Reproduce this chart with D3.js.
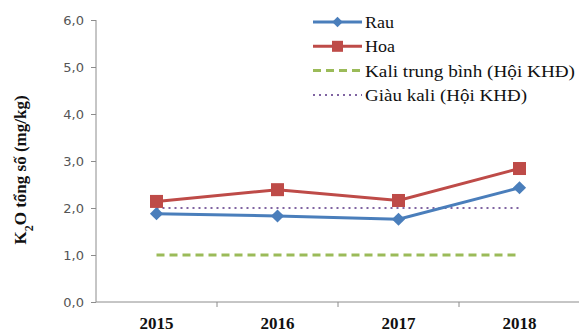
<!DOCTYPE html>
<html>
<head>
<meta charset="utf-8">
<script src="https://cdn.jsdelivr.net/npm/d3@7"></script>
<style>
  html, body { margin: 0; padding: 0; background: #fff; }
  svg { display: block; }
</style>
</head>
<body>
<svg id="chart" width="579" height="333"></svg>
<script>
// Data
const years = ["2015", "2016", "2017", "2018"];
const rau = [1.88, 1.83, 1.76, 2.43];
const hoa = [2.14, 2.39, 2.16, 2.84];
const kaliTrungBinh = [1.0, 1.0, 1.0, 1.0];
const giauKali = [2.0, 2.0, 2.0, 2.0];
const yTicks = [0, 1, 2, 3, 4, 5, 6];

const SERIF = "'Liberation Serif', 'Times New Roman', serif";
const svg = d3.select("#chart");
const margin = { left: 96, top: 20, bottom: 31 };
const W = 579, H = 333;

const x = d3.scaleBand().domain(years).range([margin.left, margin.left + 4 * 121]).padding(0);
const y = d3.scaleLinear().domain([0, 6]).range([H - margin.bottom, margin.top]);
const cx = d => x(d) + x.bandwidth() / 2;

// Y axis
const yAxis = svg.append("g")
  .attr("transform", `translate(${margin.left},0)`)
  .call(d3.axisLeft(y).tickValues(yTicks).tickSize(5).tickPadding(7)
    .tickFormat(d => d3.format(".1f")(d).replace(".", ",")));
yAxis.selectAll("path, line").attr("stroke", "#8c8c8c");
yAxis.select(".domain").attr("d", `M0,${y(6)}V${y(0)}`);
yAxis.selectAll("text")
  .attr("font-family", "'DejaVu Sans', sans-serif")
  .attr("font-size", 13)
  .attr("fill", "#555");

// X axis
const xAxis = svg.append("g")
  .attr("transform", `translate(0,${y(0)})`)
  .call(d3.axisBottom(x).tickSize(0).tickPadding(0));
xAxis.select(".domain").attr("stroke", "#8c8c8c").attr("d", `M${margin.left},0H${W}`);
xAxis.selectAll("text")
  .attr("dy", null)
  .attr("y", 27)
  .attr("font-family", SERIF)
  .attr("font-weight", "bold")
  .attr("font-size", 17)
  .attr("fill", "#111");
// category boundary ticks
svg.append("g").selectAll("line")
  .data(years.slice(1))
  .join("line")
  .attr("x1", d => x(d)).attr("x2", d => x(d))
  .attr("y1", y(0)).attr("y2", y(0) + 5)
  .attr("stroke", "#8c8c8c");

// Y axis title
svg.append("text")
  .attr("transform", `translate(26,170) rotate(-90)`)
  .attr("text-anchor", "middle")
  .attr("font-family", SERIF)
  .attr("font-weight", "bold")
  .attr("font-size", 17)
  .attr("fill", "#111")
  .html('K<tspan baseline-shift="sub" font-size="12">2</tspan>O tổng số (mg/kg)');

const line = d3.line().x((d, i) => cx(years[i])).y(d => y(d));

// Reference lines
svg.append("path").datum(kaliTrungBinh)
  .attr("d", line).attr("fill", "none")
  .attr("stroke", "#9bbb59").attr("stroke-width", 3).attr("stroke-dasharray", "8,5");
svg.append("path").datum(giauKali)
  .attr("d", line).attr("fill", "none")
  .attr("stroke", "#8064a2").attr("stroke-width", 2).attr("stroke-dasharray", "2,4");

// Rau series
svg.append("path").datum(rau)
  .attr("d", line).attr("fill", "none")
  .attr("stroke", "#4a7ebb").attr("stroke-width", 3);
svg.append("g").selectAll("path")
  .data(rau).join("path")
  .attr("transform", (d, i) => `translate(${cx(years[i])},${y(d)})`)
  .attr("d", d3.symbol(d3.symbolDiamond2, 110))
  .attr("fill", "#4a7ebb");

// Hoa series
svg.append("path").datum(hoa)
  .attr("d", line).attr("fill", "none")
  .attr("stroke", "#be4b48").attr("stroke-width", 3);
svg.append("g").selectAll("rect")
  .data(hoa).join("rect")
  .attr("x", (d, i) => cx(years[i]) - 6.5)
  .attr("y", d => y(d) - 6.5)
  .attr("width", 13).attr("height", 13)
  .attr("fill", "#be4b48");

// Legend
const legendItems = [
  { name: "Rau", color: "#4a7ebb", dash: null, w: 3, marker: "diamond", len: 29 },
  { name: "Hoa", color: "#be4b48", dash: null, w: 3, marker: "square", len: 30 },
  { name: "Kali trung bình (Hội KHĐ)", color: "#9bbb59", dash: "8,5", w: 3, marker: null, len: 210 },
  { name: "Giàu kali (Hội KHĐ)", color: "#8064a2", dash: "2,4", w: 2, marker: null, len: 162 }
];
const lg = svg.append("g").attr("transform", "translate(313,22)");
const rows = lg.selectAll("g").data(legendItems).join("g")
  .attr("transform", (d, i) => `translate(0,${i * 24.3})`);
rows.append("line")
  .attr("x1", 0).attr("x2", 49).attr("y1", 0).attr("y2", 0)
  .attr("stroke", d => d.color).attr("stroke-width", d => d.w)
  .attr("stroke-dasharray", d => d.dash);
rows.filter(d => d.marker === "diamond").append("path")
  .attr("transform", "translate(24.5,0)")
  .attr("d", d3.symbol(d3.symbolDiamond2, 70))
  .attr("fill", d => d.color);
rows.filter(d => d.marker === "square").append("rect")
  .attr("x", 19).attr("y", -5.5).attr("width", 11).attr("height", 11)
  .attr("fill", d => d.color);
rows.append("text")
  .attr("x", 52).attr("y", 6)
  .attr("font-family", SERIF)
  .attr("font-size", 17)
  .attr("fill", "#111")
  .attr("textLength", d => d.len)
  .attr("lengthAdjust", "spacingAndGlyphs")
  .text(d => d.name);
</script>
</body>
</html>
